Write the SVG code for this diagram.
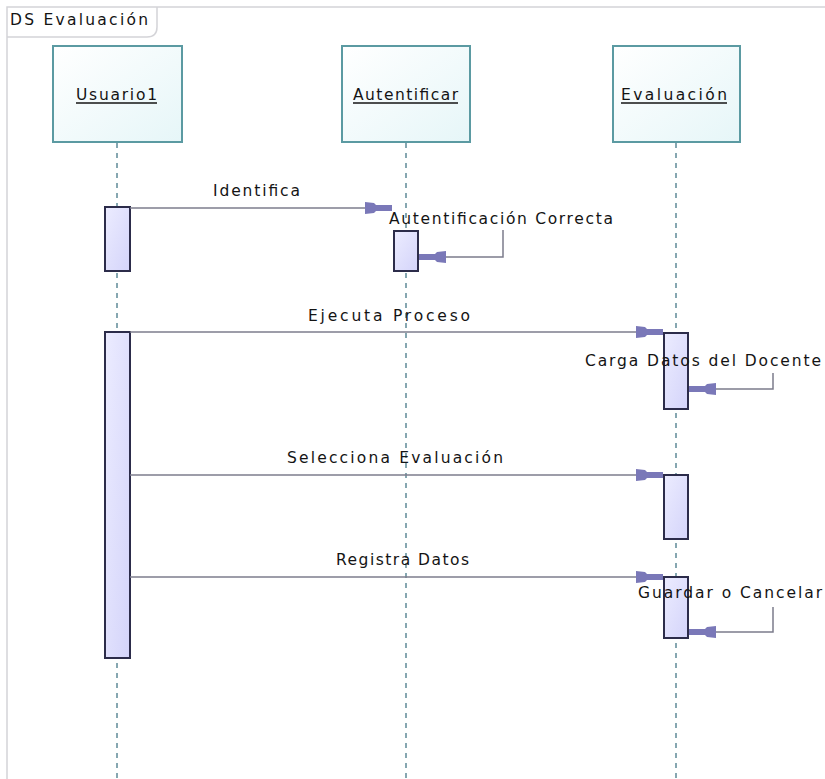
<svg xmlns="http://www.w3.org/2000/svg" width="825" height="779" viewBox="0 0 825 779">
  <defs>
    <linearGradient id="objFill" x1="0" y1="0" x2="1" y2="1">
      <stop offset="0" stop-color="#ffffff"/>
      <stop offset="1" stop-color="#e6f6f8"/>
    </linearGradient>
    <linearGradient id="actFill" x1="0" y1="0" x2="1" y2="1">
      <stop offset="0" stop-color="#ececff"/>
      <stop offset="1" stop-color="#d4d4fa"/>
    </linearGradient>
    <marker id="head" markerUnits="userSpaceOnUse" markerWidth="30" markerHeight="16" viewBox="-28 -8 30 16" refX="0" refY="0" orient="auto">
      <path d="M-27,-6 L-18,-5 L-16,-3 L0,-3 L0,3 L-16,3 L-18,5 L-27,6 Z" fill="#7a78b8"/>
    </marker>
  </defs>
  <style>
    text { font-family: "DejaVu Sans", "Liberation Sans", sans-serif; font-size: 15.5px; fill: #141414; }
    .obj { fill: url(#objFill); stroke: #5b9aa2; stroke-width: 2; }
    .act { fill: url(#actFill); stroke: #2c2c4a; stroke-width: 2; }
    .life { stroke: #5f8a98; stroke-width: 1.5; stroke-dasharray: 5 5; fill: none; }
    .msg { stroke: #7c7c8c; stroke-width: 1.5; fill: none; }
    .ul { stroke: #141414; stroke-width: 1.4; }
    .frame { stroke: #d4d4d8; stroke-width: 1.5; fill: none; }
  </style>

  <rect width="825" height="779" fill="#ffffff"/>

  <!-- diagram frame and title tab -->
  <g id="frame">
    <path class="frame" d="M7,779 V7 H825"/>
    <path class="frame" d="M7,37 H147 Q157,37 157,27 V7"/>
    <text x="10" y="25" textLength="138" lengthAdjust="spacing">DS Evaluación</text>
  </g>

  <!-- lifelines -->
  <g id="lifelines">
    <line class="life" x1="117" y1="143" x2="117" y2="779"/>
    <line class="life" x1="406" y1="143" x2="406" y2="779"/>
    <line class="life" x1="676" y1="143" x2="676" y2="779"/>
  </g>

  <!-- object boxes -->
  <g id="usuario1">
    <rect class="obj" x="53" y="46" width="129" height="96"/>
    <text x="76" y="100" textLength="81" lengthAdjust="spacing">Usuario1</text>
    <line class="ul" x1="76" y1="103" x2="157" y2="103"/>
  </g>
  <g id="autentificar">
    <rect class="obj" x="342" y="46" width="128" height="96"/>
    <text x="353" y="100" textLength="105" lengthAdjust="spacing">Autentificar</text>
    <line class="ul" x1="353" y1="103" x2="458" y2="103"/>
  </g>
  <g id="evaluacion">
    <rect class="obj" x="613" y="46" width="127" height="96"/>
    <text x="621" y="100" textLength="106" lengthAdjust="spacing">Evaluación</text>
    <line class="ul" x1="621" y1="103" x2="727" y2="103"/>
  </g>

  <!-- activation bars -->
  <g id="activations">
    <rect class="act" x="105" y="207" width="25" height="64"/>
    <rect class="act" x="394" y="231" width="24" height="40"/>
    <rect class="act" x="105" y="332" width="25" height="326"/>
    <rect class="act" x="664" y="333" width="24" height="76"/>
    <rect class="act" x="664" y="475" width="24" height="64"/>
    <rect class="act" x="664" y="577" width="24" height="61"/>
  </g>

  <!-- messages -->
  <g id="connectors">
    <line class="msg" x1="130" y1="208" x2="392" y2="208" marker-end="url(#head)"/>
    <polyline class="msg" points="503,230 503,257 419,257" marker-end="url(#head)"/>
    <line class="msg" x1="130" y1="332" x2="663" y2="332" marker-end="url(#head)"/>
    <polyline class="msg" points="773,373 773,389 689,389" marker-end="url(#head)"/>
    <line class="msg" x1="130" y1="475" x2="663" y2="475" marker-end="url(#head)"/>
    <line class="msg" x1="130" y1="577" x2="663" y2="577" marker-end="url(#head)"/>
    <polyline class="msg" points="773,607 773,632 689,632" marker-end="url(#head)"/>
  </g>

  <!-- message labels -->
  <g id="labels">
    <text x="213" y="196" textLength="87" lengthAdjust="spacing">Identifica</text>
    <text x="389" y="224" textLength="224" lengthAdjust="spacing">Autentificación Correcta</text>
    <text x="308" y="321" textLength="162" lengthAdjust="spacing">Ejecuta Proceso</text>
    <text x="585" y="366" textLength="236" lengthAdjust="spacing">Carga Datos del Docente</text>
    <text x="287" y="463" textLength="216" lengthAdjust="spacing">Selecciona Evaluación</text>
    <text x="336" y="565" textLength="133" lengthAdjust="spacing">Registra Datos</text>
    <text x="638" y="598" textLength="184" lengthAdjust="spacing">Guardar o Cancelar</text>
  </g>
</svg>
